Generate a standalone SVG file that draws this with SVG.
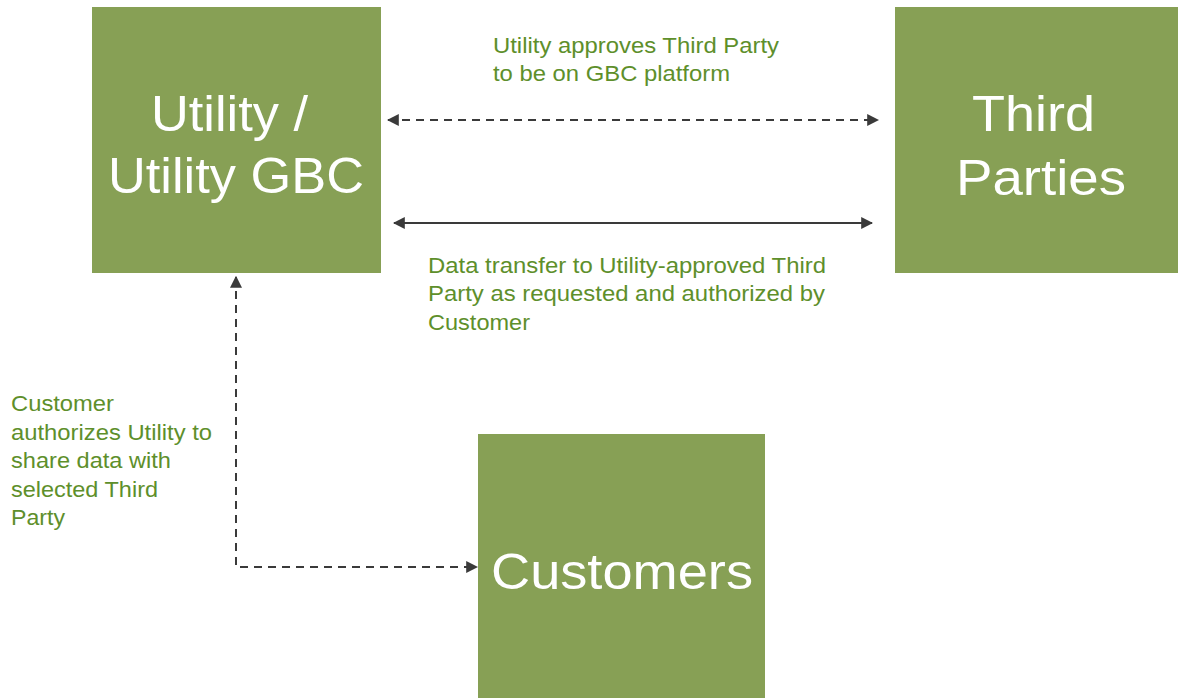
<svg xmlns="http://www.w3.org/2000/svg" width="1178" height="698" viewBox="0 0 1178 698">
<defs>
<style>
.box{fill:#87a055}
.bt{font-family:"Liberation Sans",Arial,sans-serif;font-size:50px;fill:#ffffff}
.lb{font-family:"Liberation Sans",Arial,sans-serif;font-size:22px;fill:#5e8f2b}
.ln{stroke:#3a3a3a;stroke-width:2;fill:none}
.dash{stroke-dasharray:8,6}
</style>
<marker id="ah" viewBox="0 0 10 10" refX="9" refY="5" markerWidth="6" markerHeight="6" orient="auto-start-reverse" markerUnits="strokeWidth">
<path d="M0,0 L10,5 L0,10 z" fill="#3a3a3a"/>
</marker>
</defs>
<rect width="1178" height="698" fill="#ffffff"/>
<g id="utility">
<rect class="box" x="92" y="7" width="289" height="266"/>
<text class="bt" x="151" y="131" textLength="157" lengthAdjust="spacingAndGlyphs">Utility /</text>
<text class="bt" x="108" y="193" textLength="256" lengthAdjust="spacingAndGlyphs">Utility GBC</text>
</g>
<g id="third-parties">
<rect class="box" x="895" y="7" width="283" height="266"/>
<text class="bt" x="972" y="131" textLength="123" lengthAdjust="spacingAndGlyphs">Third</text>
<text class="bt" x="956" y="195" textLength="170" lengthAdjust="spacingAndGlyphs">Parties</text>
</g>
<g id="customers">
<rect class="box" x="478" y="434" width="287" height="264"/>
<text class="bt" x="491" y="589" textLength="262" lengthAdjust="spacingAndGlyphs">Customers</text>
</g>
<g id="connectors">
<line class="ln dash" x1="388" y1="120" x2="878" y2="120" marker-start="url(#ah)" marker-end="url(#ah)"/>
<line class="ln" x1="394" y1="223" x2="872" y2="223" marker-start="url(#ah)" marker-end="url(#ah)"/>
<path class="ln dash" d="M236,277 L236,567 L477,567" marker-start="url(#ah)" marker-end="url(#ah)"/>
</g>
<g id="labels">
<text class="lb" x="493" y="53" textLength="286" lengthAdjust="spacingAndGlyphs">Utility approves Third Party</text>
<text class="lb" x="493" y="81" textLength="237" lengthAdjust="spacingAndGlyphs">to be on GBC platform</text>
<text class="lb" x="428" y="273" textLength="398" lengthAdjust="spacingAndGlyphs">Data transfer to Utility-approved Third</text>
<text class="lb" x="428" y="301" textLength="397" lengthAdjust="spacingAndGlyphs">Party as requested and authorized by</text>
<text class="lb" x="428" y="330" textLength="102" lengthAdjust="spacingAndGlyphs">Customer</text>
<text class="lb" x="11" y="411" textLength="103" lengthAdjust="spacingAndGlyphs">Customer</text>
<text class="lb" x="11" y="440" textLength="201" lengthAdjust="spacingAndGlyphs">authorizes Utility to</text>
<text class="lb" x="11" y="468" textLength="160" lengthAdjust="spacingAndGlyphs">share data with</text>
<text class="lb" x="11" y="497" textLength="147" lengthAdjust="spacingAndGlyphs">selected Third</text>
<text class="lb" x="11" y="525" textLength="54" lengthAdjust="spacingAndGlyphs">Party</text>
</g>
</svg>
